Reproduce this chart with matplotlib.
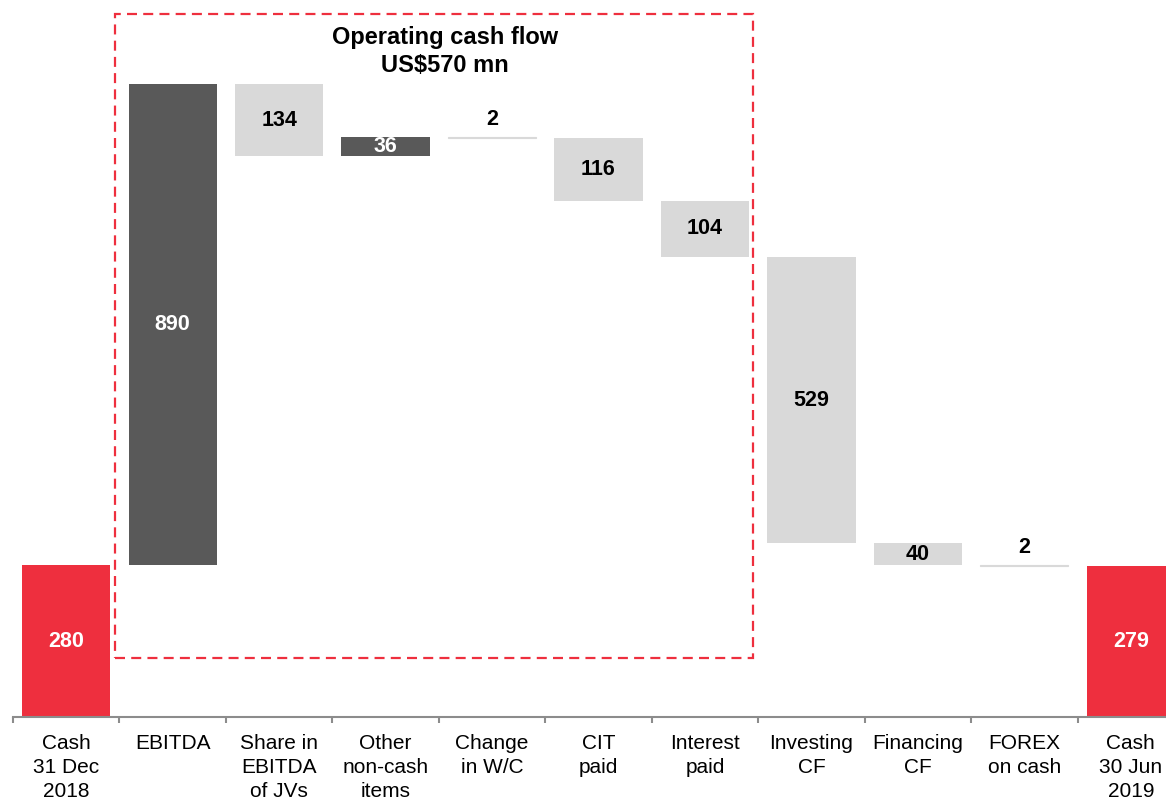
import numpy as np
import matplotlib.pyplot as plt
from matplotlib.patches import Rectangle

plt.rcParams["font.family"] = ["Liberation Sans", "DejaVu Sans"]

categories = ["Cash\n31 Dec\n2018", "EBITDA", "Share in\nEBITDA\nof JVs",
              "Other\nnon-cash\nitems", "Change\nin W/C", "CIT\npaid",
              "Interest\npaid", "Investing\nCF", "Financing\nCF",
              "FOREX\non cash", "Cash\n30 Jun\n2019"]
# signed changes; first and last are totals
changes = [280, 890, -134, 36, -2, -116, -104, -529, -40, -2, 279]
labels = ["280", "890", "134", "36", "2", "116", "104", "529", "40", "2", "279"]
box_title = "Operating cash flow\nUS$570 mn"

RED = "#EE2F3E"
DARK = "#595959"
LIGHT = "#D9D9D9"

W, H = 11.66, 8.01
fig = plt.figure(figsize=(W, H), dpi=100)
# axes extends past the right edge (the original is cropped there)
ax = fig.add_axes([13 / 1166, 84 / 801, 1171 / 1166, 717 / 801])
ax.set_xlim(-0.5, 10.5)
ax.set_ylim(0, 1325)

x = np.arange(len(categories))
bw = 0.83
running = 0
for i, (c, lab) in enumerate(zip(changes, labels)):
    if i == 0 or i == len(changes) - 1:
        bottom, height, color, tcol = 0, c, RED, "white"
        running = c
    else:
        if c >= 0:
            bottom, height = running, c
            color, tcol = DARK, "white"
        else:
            bottom, height = running + c, -c
            color, tcol = LIGHT, "black"
        running += c
    if height <= 3:
        ax.bar(x[i], height, bottom=bottom, width=bw, color=color,
               edgecolor=color, linewidth=0.8)
        ax.text(x[i], bottom + height + 33, lab, ha="center", va="center",
                fontsize=15.5, fontweight="bold", color="black")
    else:
        ax.bar(x[i], height, bottom=bottom, width=bw, color=color, linewidth=0)
        ax.text(x[i], bottom + height / 2, lab, ha="center", va="center",
                fontsize=15.5, fontweight="bold", color=tcol)

# dashed box around operating cash flow items
ax.add_patch(Rectangle((0.458, 109), 6.448 - 0.458, 1299 - 109,
                       fill=False, edgecolor=RED, linewidth=1.6,
                       linestyle=(0, (4.5, 2.8)), clip_on=False))
ax.text(3.557, 1230, box_title, ha="center", va="center", fontsize=17,
        fontweight="bold", linespacing=1.27)

for s in ["top", "right", "left"]:
    ax.spines[s].set_visible(False)
ax.spines["bottom"].set_color("#8C8C8C")
ax.spines["bottom"].set_linewidth(1.5)
ax.set_yticks([])
ax.set_xticks(x)
ax.set_xticklabels(categories, fontsize=15, linespacing=1.36)
ax.tick_params(axis="x", which="major", length=0, pad=12)
ax.set_xticks(np.arange(-0.5, 11, 1), minor=True)
ax.tick_params(axis="x", which="minor", length=4, width=1.5, color="#8C8C8C")

fig.savefig("out.png", dpi=100)
